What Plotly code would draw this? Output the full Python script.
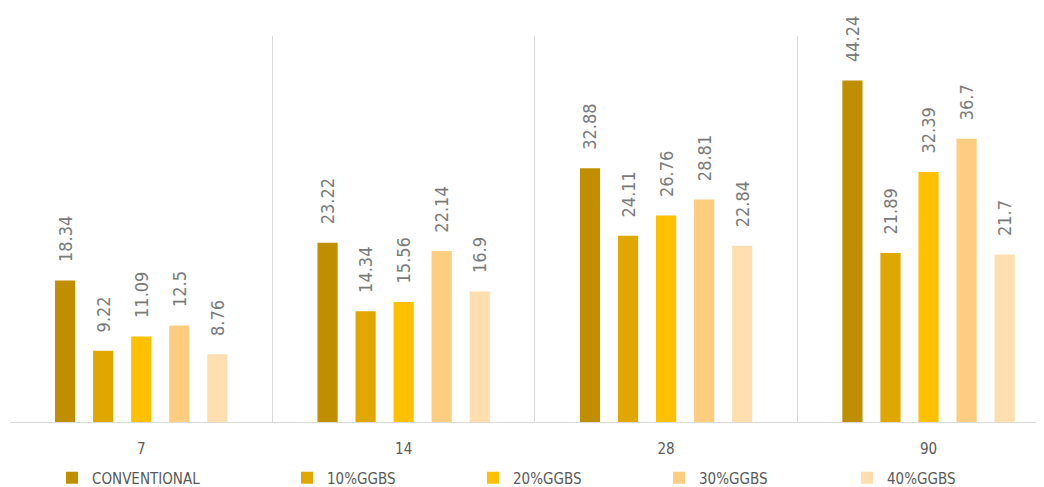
import plotly.graph_objects as go

ages = ['7', '14', '28', '90']
series_names = ['CONVENTIONAL', '10%GGBS', '20%GGBS', '30%GGBS', '40%GGBS']
conventional = [18.34, 23.22, 32.88, 44.24]
ggbs_10 = [9.22, 14.34, 24.11, 21.89]
ggbs_20 = [11.09, 15.56, 26.76, 32.39]
ggbs_30 = [12.5, 22.14, 28.81, 36.7]
ggbs_40 = [8.76, 16.9, 22.84, 21.7]

colors = ['#BF8F00', '#E0A700', '#FFC000', '#FFCD80', '#FFDFB0']
legend_text_x = [92, 327, 513, 699, 887]

FONT = 'DejaVu Sans Condensed, Liberation Sans Narrow, sans-serif'
TEXT = '#595959'
PAGE_OFFSET = 8  # body margin of the html page
PAD = '\u00a0' * 3  # lifts the value labels off the bar tops

fig = go.Figure()

all_values = [conventional, ggbs_10, ggbs_20, ggbs_30, ggbs_40]
for i, (name, vals) in enumerate(zip(series_names, all_values)):
    leg = 'legend' if i == 0 else f'legend{i + 1}'
    fig.add_trace(go.Bar(
        x=ages, y=vals, name=name,
        marker=dict(color=colors[i], line_width=0),
        text=[PAD + f'{v:g}' for v in vals],
        textposition='outside', textangle=-90,
        textfont=dict(family=FONT, size=18, color='#7a7a7a'),
        cliponaxis=False,
        legend=leg
    ))

# one legend per series so the entries sit where the original has them
legends = {}
for i, tx in enumerate(legend_text_x):
    key = 'legend' if i == 0 else f'legend{i + 1}'
    legends[key] = dict(
        xref='container', yref='container',
        x=(tx - PAGE_OFFSET - 40) / 1044, y=1 - 470 / 487,
        xanchor='left', yanchor='middle',
        orientation='h', bgcolor='rgba(0,0,0,0)',
        font=dict(family=FONT, size=15, color=TEXT),
        itemwidth=30
    )

fig.update_layout(
    width=1044, height=487,
    margin=dict(l=2, r=8, t=28, b=73, autoexpand=False),
    paper_bgcolor='white', plot_bgcolor='white',
    barmode='group', bargap=0.275, bargroupgap=0.47,
    uniformtext=dict(minsize=18, mode='show'),
    showlegend=True,
    font=dict(family=FONT, color=TEXT),
    **legends
)

fig.update_xaxes(
    type='category', range=[-0.5, 3.44],
    tickson='boundaries', showgrid=True, gridcolor='#D9D9D9', gridwidth=1,
    ticks='', showline=True, linecolor='#D9D9D9', linewidth=1,
    tickfont=dict(family=FONT, size=15, color=TEXT),
    ticklabelstandoff=13,
    zeroline=False
)
fig.update_yaxes(
    range=[0, 50], visible=False, showgrid=False, zeroline=False
)

fig.write_html('out.html')
